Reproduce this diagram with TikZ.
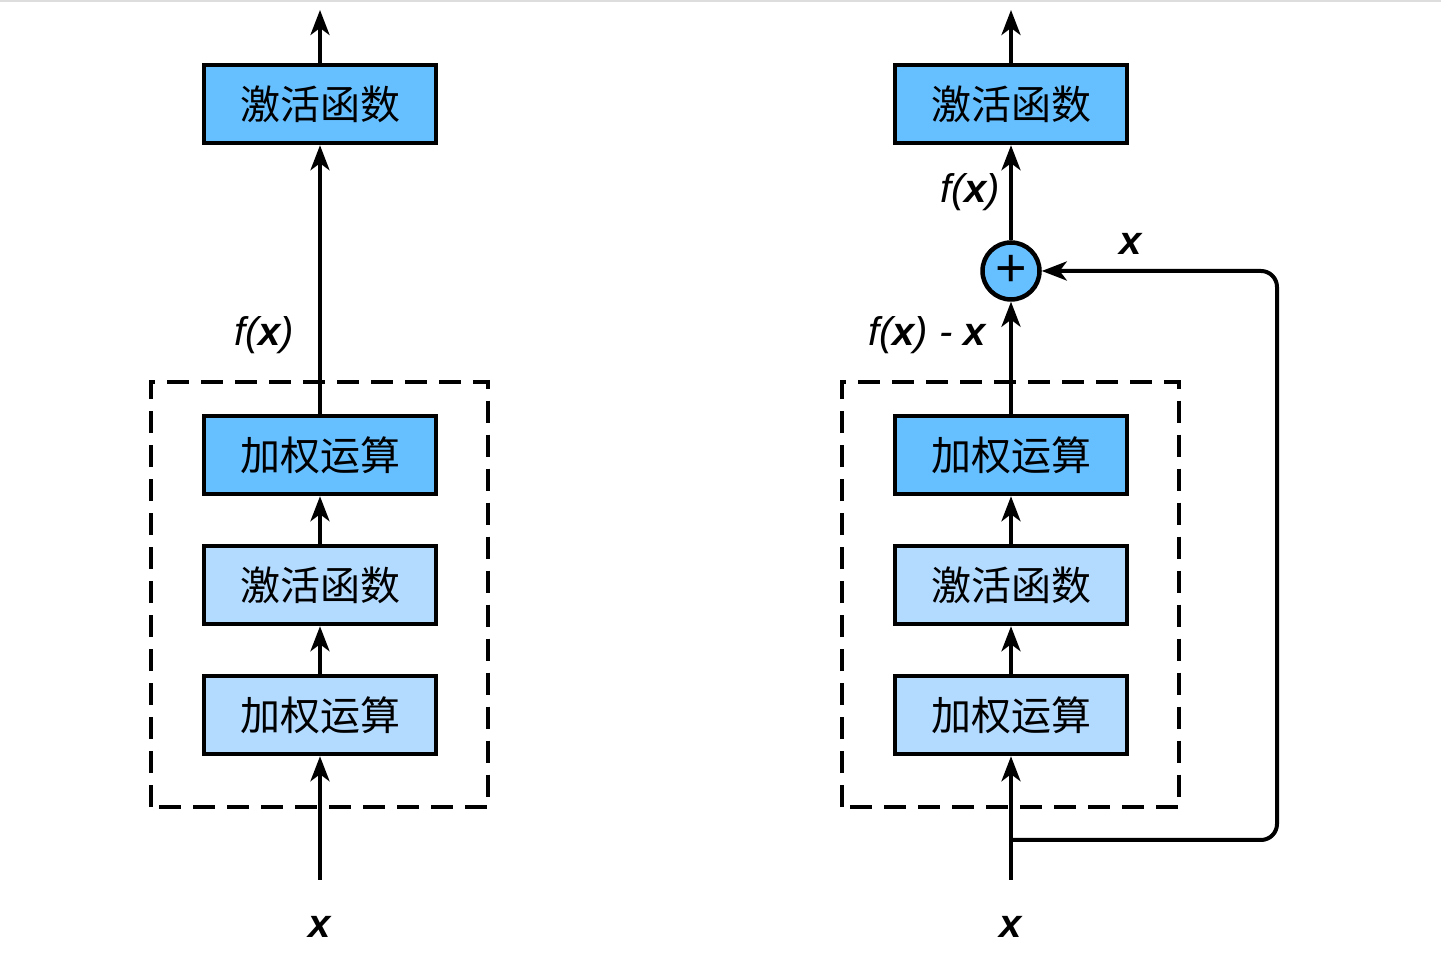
\documentclass[tikz,border=0pt]{standalone}
\usepackage{fontspec}
\usepackage{tikz}
\usetikzlibrary{arrows.meta, positioning, calc}
\newfontfamily\cjk{Noto Sans CJK SC}
\newfontfamily\lblfont{Liberation Sans}
\definecolor{darkblue}{HTML}{66BFFF}
\definecolor{lightblue}{HTML}{B3DAFF}
\definecolor{rulegrey}{HTML}{DDDDDD}
\newcommand{\vx}{\textbf{x}}
\tikzstyle{layer} = [rectangle, draw=black, line width=4.5pt, minimum width=232pt, minimum height=78pt, inner sep=0pt, font=\cjk\fontsize{40}{40}\selectfont]
\tikzstyle{hilayer} = [layer, fill=darkblue]
\tikzstyle{lolayer} = [layer, fill=lightblue]
\tikzstyle{sumnode} = [circle, draw=black, line width=4.5pt, fill=darkblue, minimum size=57pt, inner sep=0pt, font=\lblfont\fontsize{54}{54}\selectfont]
\tikzstyle{flow} = [line width=4pt, -{Stealth[length=25pt, width=19pt, inset=7pt]}]
\tikzstyle{dashedbox} = [line width=4pt, dash pattern=on 22pt off 12pt]
\tikzstyle{lbl} = [inner sep=0pt, font=\lblfont\itshape\fontsize{40}{40}\selectfont]

\begin{document}
\begin{tikzpicture}[x=1pt, y=1pt, node distance=47.5pt]
\useasboundingbox (0,0) rectangle (1441,968);
\draw[rulegrey, line width=1.5pt] (0,967) -- (1441,967);

% left: plain block
\node (lw1) [lolayer] at (320,253) {加权运算};
\node (la1) [lolayer, above=of lw1] {激活函数};
\node (lw2) [hilayer, above=of la1] {加权运算};
\node (lact) [hilayer, above=268.5pt of lw2] {激活函数};
\coordinate (lin) at (320,88);
\coordinate (lout) at (320,958);
\node (lxlbl) [lbl] at (320,41) {\vx};
\node (lfx) [lbl] at (264,633) {f(\vx)};

\draw[dashedbox] ($(lw1.south west)+(-51,-51)$) rectangle ($(lw2.north east)+(50,32)$);
\draw[flow] (lin) -- (lw1);
\draw[flow] (lw1) -- (la1);
\draw[flow] (la1) -- (lw2);
\draw[flow] (lw2) -- (lact);
\draw[flow] (lact) -- (lout);

% right: residual block
\node (rw1) [lolayer] at (1011,253) {加权运算};
\node (ra1) [lolayer, above=of rw1] {激活函数};
\node (rw2) [hilayer, above=of ra1] {加权运算};
\node (ract) [hilayer, above=268.5pt of rw2] {激活函数};
\node (rsum) [sumnode] at (1011,697) {+};
\coordinate (rin) at (1011,88);
\coordinate (rsplit) at (1011,128);
\coordinate (rout) at (1011,958);
\node (rxlbl) [lbl] at (1011,41) {\vx};
\node (rfx) [lbl] at (970,776) {f(\vx)};
\node (rres) [lbl] at (927,633) {f(\vx) - \vx};
\node (rskip) [lbl] at (1131,724) {\vx};

\draw[dashedbox] ($(rw1.south west)+(-51,-51)$) rectangle ($(rw2.north east)+(50,32)$);
\draw[flow] (rin) -- (rw1);
\draw[flow] (rw1) -- (ra1);
\draw[flow] (ra1) -- (rw2);
\draw[flow] (rw2) -- (rsum);
\draw[flow] (rsum) -- (ract);
\draw[flow] (ract) -- (rout);
\draw[flow, rounded corners=16pt] (rsplit) -- ++(266,0) |- (rsum);
\end{tikzpicture}
\end{document}
